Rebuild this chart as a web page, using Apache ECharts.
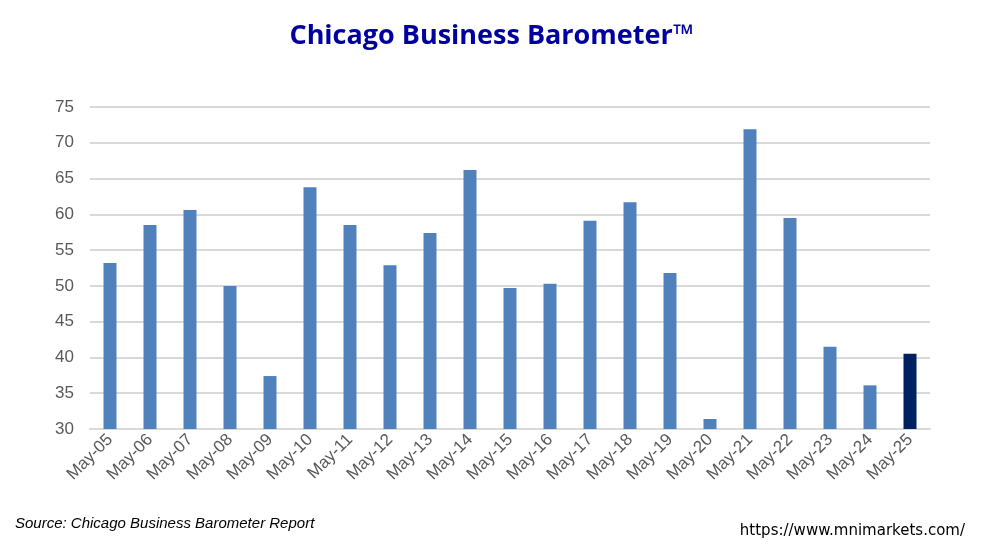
<!DOCTYPE html>
<html>
<head>
<meta charset="utf-8">
<script src="https://cdn.jsdelivr.net/npm/echarts@6/dist/echarts.min.js"></script>
<style>html,body{margin:0;padding:0;background:#fff}#chart{width:983px;height:546px}</style>
</head>
<body>
<div id="chart"></div>
<script>
var categories = ['May-05','May-06','May-07','May-08','May-09','May-10','May-11','May-12','May-13','May-14','May-15',
    'May-16','May-17','May-18','May-19','May-20','May-21','May-22','May-23','May-24','May-25'];
var values = [53.2, 58.5, 60.6, 50.0, 37.4, 63.8, 58.5, 52.9, 57.4, 66.2, 49.7,
    50.3, 59.1, 61.7, 51.8, 31.4, 71.9, 59.5, 41.5, 36.1, 40.5];

var chart = echarts.init(document.getElementById('chart'));
chart.setOption({
    animation: false,
    title: {
        text: 'Chicago Business Barometer™',
        left: 'center', top: 18,
        textStyle: {color: '#0000a0', fontSize: 27, fontWeight: 'bold', fontFamily: 'Open Sans'}
    },
    grid: {left: 90, right: 53, top: 107, bottom: 117},
    xAxis: {
        type: 'category',
        data: categories,
        axisLine: {lineStyle: {color: '#d9d9d9', width: 2}},
        axisTick: {show: false},
        axisLabel: {rotate: 45, color: '#595959', fontSize: 17, fontFamily: 'Arial', margin: 8}
    },
    yAxis: {
        type: 'value', min: 30, max: 75, interval: 5,
        axisLine: {show: false}, axisTick: {show: false},
        axisLabel: {color: '#595959', fontSize: 17, fontFamily: 'Arial', margin: 16},
        splitLine: {lineStyle: {color: '#d9d9d9', width: 2}}
    },
    series: [{
        type: 'bar',
        barWidth: 13,
        data: values.map(function (v, i) {
            return {value: v, itemStyle: {color: i == values.length - 1 ? '#002060' : '#4f81bd'}};
        })
    }],
    graphic: [
        {type: 'text', left: 15, top: 516, style: {text: 'Source: Chicago Business Barometer Report', font: 'italic 15px Arial', fill: '#000'}},
        {type: 'text', right: 18, top: 524, style: {text: 'https://www.mnimarkets.com/', font: '15px "DejaVu Sans"', fill: '#000'}}
    ]
});
</script>
</body>
</html>
